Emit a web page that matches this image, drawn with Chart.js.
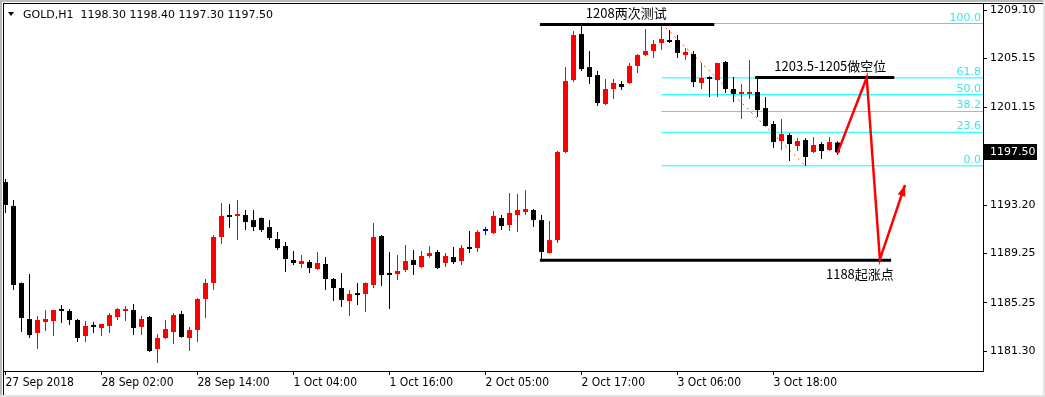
<!DOCTYPE html>
<html>
<head>
<meta charset="utf-8">
<script src="https://cdn.jsdelivr.net/npm/chart.js@4.4.1/dist/chart.umd.min.js"></script>
<style>
html, body { margin: 0; padding: 0; background: #fff; }
canvas { display: block; }
</style>
</head>
<body>
<canvas id="goldChart" width="1045" height="397"></canvas>
<script>
// GOLD H1 candles, 27 Sep 2018 .. 3 Oct 2018
const opens = [
  1195.08, 1193.13, 1186.85, 1183.92, 1182.78, 1183.67, 1183.75, 1184.73, 1184.57, 1183.84,
  1182.53, 1183.43, 1183.18, 1183.35, 1184.08, 1184.57, 1184.65, 1183.27, 1184.08, 1181.47,
  1182.37, 1182.86, 1184.32, 1182.37, 1183.02, 1185.55, 1186.85, 1190.60, 1192.39, 1192.31,
  1192.39, 1191.98, 1192.15, 1191.41, 1190.44, 1189.87, 1188.73, 1188.40, 1188.56, 1187.99,
  1188.40, 1187.18, 1186.44, 1185.38, 1186.03, 1185.95, 1186.69, 1190.68, 1187.67, 1187.58,
  1187.91, 1188.73, 1188.15, 1189.05, 1189.38, 1188.48, 1188.97, 1188.64, 1189.79, 1189.70,
  1191.09, 1190.92, 1192.15, 1191.58, 1192.39, 1192.64, 1192.80, 1191.98, 1189.29, 1190.35,
  1197.53, 1203.39, 1207.14, 1204.45, 1203.80, 1201.44, 1202.66, 1203.07, 1203.15, 1204.54,
  1205.43, 1205.76, 1206.41, 1206.65, 1206.65, 1205.43, 1205.51, 1203.15, 1203.64, 1203.39,
  1204.86, 1202.66, 1202.26, 1202.26, 1202.42, 1201.11, 1199.81, 1198.42, 1198.91, 1198.02,
  1198.50, 1197.53, 1198.18, 1197.69, 1198.30
];
const highs = [
  1195.33, 1193.62, 1186.90, 1187.58, 1184.16, 1184.65, 1184.65, 1185.06, 1184.73, 1183.92,
  1183.75, 1183.67, 1183.51, 1184.41, 1184.81, 1184.98, 1185.14, 1184.16, 1184.16, 1182.69,
  1183.84, 1184.41, 1184.57, 1183.27, 1185.63, 1187.18, 1190.76, 1193.37, 1193.29, 1193.62,
  1192.80, 1192.80, 1192.20, 1191.98, 1191.01, 1190.19, 1189.46, 1189.13, 1188.73, 1189.38,
  1188.97, 1187.26, 1187.67, 1186.28, 1186.85, 1186.90, 1191.74, 1190.76, 1189.38, 1189.13,
  1189.95, 1189.54, 1189.46, 1189.87, 1189.54, 1189.29, 1189.79, 1189.95, 1191.09, 1191.17,
  1191.41, 1192.72, 1192.39, 1194.19, 1194.10, 1194.43, 1192.88, 1192.39, 1191.90, 1197.61,
  1204.45, 1207.39, 1207.95, 1205.76, 1204.13, 1203.48, 1203.48, 1203.31, 1204.78, 1205.51,
  1207.55, 1206.65, 1208.00, 1207.47, 1207.06, 1206.00, 1205.76, 1204.78, 1203.70, 1204.80,
  1204.94, 1203.64, 1203.07, 1205.03, 1203.64, 1202.01, 1200.05, 1200.22, 1199.08, 1198.67,
  1198.67, 1198.75, 1198.34, 1198.75, 1198.40
];
const lows = [
  1192.56, 1186.28, 1182.86, 1182.37, 1181.47, 1182.94, 1182.53, 1183.59, 1183.43, 1182.04,
  1182.04, 1182.78, 1182.53, 1182.78, 1183.84, 1183.75, 1182.61, 1182.61, 1181.23, 1180.33,
  1182.29, 1181.88, 1182.40, 1181.31, 1182.04, 1184.00, 1186.28, 1190.03, 1191.33, 1190.35,
  1191.17, 1191.09, 1191.01, 1190.35, 1189.54, 1187.75, 1188.32, 1188.07, 1187.67, 1187.91,
  1186.28, 1185.38, 1184.89, 1184.16, 1185.06, 1184.49, 1186.44, 1186.60, 1184.73, 1187.10,
  1187.75, 1187.50, 1188.07, 1188.89, 1188.00, 1188.15, 1188.40, 1188.32, 1189.29, 1189.38,
  1190.76, 1190.85, 1191.17, 1191.09, 1191.01, 1192.39, 1191.41, 1188.81, 1189.25, 1190.11,
  1197.45, 1203.23, 1204.13, 1203.07, 1201.28, 1201.36, 1201.85, 1202.58, 1203.07, 1203.96,
  1205.35, 1205.19, 1205.84, 1206.41, 1205.19, 1205.03, 1202.82, 1202.66, 1202.01, 1202.01,
  1202.34, 1201.60, 1200.22, 1201.85, 1200.38, 1199.60, 1197.85, 1197.69, 1196.79, 1197.61,
  1196.40, 1197.45, 1196.96, 1197.61, 1197.30
];
const closes = [
  1193.21, 1186.69, 1184.00, 1182.61, 1183.84, 1183.92, 1184.65, 1184.57, 1183.84, 1182.37,
  1183.35, 1183.27, 1183.51, 1184.24, 1184.73, 1184.73, 1183.18, 1183.92, 1181.31, 1182.37,
  1183.10, 1184.24, 1182.45, 1183.02, 1185.55, 1186.85, 1190.60, 1192.31, 1192.23, 1192.47,
  1191.82, 1191.41, 1191.17, 1190.52, 1189.70, 1188.81, 1188.48, 1188.64, 1188.07, 1188.48,
  1187.18, 1186.44, 1185.47, 1185.95, 1185.87, 1186.85, 1190.60, 1187.50, 1187.50, 1187.83,
  1188.64, 1188.32, 1189.05, 1189.29, 1188.07, 1189.05, 1188.56, 1189.70, 1189.62, 1191.01,
  1191.09, 1192.31, 1191.50, 1192.56, 1192.80, 1192.88, 1191.98, 1189.38, 1190.35, 1197.53,
  1203.31, 1207.06, 1204.29, 1203.64, 1201.52, 1202.66, 1203.15, 1202.82, 1204.54, 1205.43,
  1205.76, 1206.33, 1206.74, 1206.49, 1205.60, 1205.68, 1203.23, 1203.56, 1203.48, 1204.78,
  1202.66, 1202.26, 1202.34, 1202.34, 1200.95, 1199.65, 1198.34, 1198.99, 1198.18, 1198.42,
  1197.12, 1198.10, 1197.61, 1198.34, 1197.50
];

const timeTickIdx = [0, 12, 24, 36, 48, 60, 72, 84, 96];
const timeLabels = ["27 Sep 2018", "28 Sep 02:00", "28 Sep 14:00", "1 Oct 04:00", "1 Oct 16:00",
                    "2 Oct 05:00", "2 Oct 17:00", "3 Oct 06:00", "3 Oct 18:00"];
const priceTicks = [1209.10, 1205.15, 1201.15, 1197.20, 1193.20, 1189.25, 1185.25, 1181.30];

// fibonacci: drawn from the high of bar 82 to the low of bar 100
const fibHigh = { x: 82, y: 1208.00 };
const fibLow = { x: 100, y: 1196.40 };
const fibRatios = [100.0, 61.8, 50.0, 38.2, 23.6, 0.0];

// hand drawn levels (bar index from / to, price) and their notes
const levelFrom = [66.8, 93.7, 66.8];
const levelTo = [88.6, 111.1, 110.7];
const levelPrice = [1207.92, 1203.60, 1188.71];
const noteText = ["1208两次测试", "1203.5-1205做空位", "1188起涨点"];
const noteX = [77.6, 103.1, 106.8];
const noteY = [1208.86, 1204.54, 1187.58];

// red projected path
const pathX = [103.98, 107.65, 109.3, 112.44];
const pathY = [1197.42, 1203.58, 1188.78, 1194.84];

const xMin = -0.1875, xMax = 122.1875;
const yMin = 1179.68, yMax = 1209.59;

const candleColors = closes.map((c, i) =>
  c > opens[i] ? "#ff0000" : (c < opens[i] ? "#000000" : "#0000ff"));

const datasets = [];

datasets.push({
  type: "line",
  data: pathX.map((x, i) => ({ x: x, y: pathY[i] })),
  borderColor: "#ff0000",
  borderWidth: 2.5,
  pointRadius: 0,
  order: 0
});

levelPrice.forEach((p, i) => {
  datasets.push({
    type: "line",
    data: [{ x: levelFrom[i], y: p }, { x: levelTo[i], y: p }],
    borderColor: "#000000",
    borderWidth: 3,
    pointRadius: 0,
    order: 1
  });
});

datasets.push({
  type: "bar",
  data: opens.map((o, i) => ({ x: i, y: [Math.min(o, closes[i]), Math.max(o, closes[i])] })),
  backgroundColor: candleColors,
  barThickness: 5,
  minBarLength: 2,
  grouped: false,
  inflateAmount: 0,
  borderWidth: 0,
  order: 2
});

datasets.push({
  type: "bar",
  data: lows.map((l, i) => ({ x: i, y: [l, highs[i]] })),
  backgroundColor: candleColors,
  barThickness: 1,
  grouped: false,
  inflateAmount: 0,
  borderWidth: 0,
  order: 3
});

datasets.push({
  type: "line",
  data: [fibHigh, fibLow],
  borderColor: "#ff4500",
  borderWidth: 1,
  borderDash: [2, 4],
  pointRadius: 0,
  order: 4
});

const fibLevels = fibRatios.map(r => fibLow.y + (fibHigh.y - fibLow.y) * r / 100);

fibLevels.forEach(lv => {
  datasets.push({
    type: "line",
    data: [{ x: fibHigh.x, y: lv }, { x: xMax, y: lv }],
    borderColor: "#00ffff",
    borderWidth: 1,
    pointRadius: 0,
    order: 5
  });
});

const decor = {
  id: "decor",
  beforeDraw(chart) {
    const c = chart.ctx;
    c.save();
    c.fillStyle = "#ffffff";
    c.fillRect(0, 0, chart.width, chart.height);
    c.restore();
  },
  afterDraw(chart) {
    const c = chart.ctx;
    const a = chart.chartArea;
    const xs = chart.scales.x, ys = chart.scales.y;
    c.save();

    // window frame
    c.fillStyle = "#b9b9b9";
    c.fillRect(0, 0, chart.width, 2);
    c.fillRect(0, 0, 2, chart.height);
    c.fillStyle = "#e3e3e3";
    c.fillRect(chart.width - 2, 0, 2, chart.height);
    c.fillRect(0, chart.height - 2, chart.width, 2);
    c.fillStyle = "#000000";
    c.fillRect(3, 3, chart.width - 5, 1);
    c.fillRect(3, 3, 1, chart.height - 5);
    c.fillRect(a.right, 3, 1, a.bottom - 3 + 1);
    c.fillRect(3, a.bottom, a.right - 3 + 1, 1);

    // fib labels
    c.font = "11px 'DejaVu Sans'";
    c.fillStyle = "#3fe4ea";
    c.textAlign = "right";
    c.textBaseline = "alphabetic";
    fibRatios.forEach((r, i) => {
      c.fillText(r.toFixed(1), a.right - 2, ys.getPixelForValue(fibLevels[i]) - 3);
    });

    // notes
    c.font = "13px 'Noto Sans CJK SC', 'DejaVu Sans'";
    c.fillStyle = "#000000";
    c.textAlign = "center";
    c.textBaseline = "middle";
    noteText.forEach((t, i) => {
      c.fillText(t, xs.getPixelForValue(noteX[i]), ys.getPixelForValue(noteY[i]));
    });

    // arrow head on the red path
    const n = pathX.length;
    const x1 = xs.getPixelForValue(pathX[n - 2]), y1 = ys.getPixelForValue(pathY[n - 2]);
    const x2 = xs.getPixelForValue(pathX[n - 1]), y2 = ys.getPixelForValue(pathY[n - 1]);
    const ang = Math.atan2(y2 - y1, x2 - x1);
    c.fillStyle = "#ff0000";
    c.beginPath();
    c.moveTo(x2, y2);
    c.lineTo(x2 - 11 * Math.cos(ang) + 4 * Math.sin(ang), y2 - 11 * Math.sin(ang) - 4 * Math.cos(ang));
    c.lineTo(x2 - 11 * Math.cos(ang) - 4 * Math.sin(ang), y2 - 11 * Math.sin(ang) + 4 * Math.cos(ang));
    c.closePath();
    c.fill();

    // title
    c.fillStyle = "#000000";
    c.beginPath();
    c.moveTo(8, 12);
    c.lineTo(14, 12);
    c.lineTo(11, 16);
    c.closePath();
    c.fill();
    const last = opens.length - 1;
    c.font = "11px 'DejaVu Sans'";
    c.textAlign = "left";
    c.textBaseline = "middle";
    c.fillText("GOLD,H1  " + [opens[last], highs[last], lows[last], closes[last]]
      .map(v => v.toFixed(2)).join(" "), 23, 15);

    // current price box
    const py = Math.round(ys.getPixelForValue(closes[last]));
    c.fillStyle = "#000000";
    c.fillRect(a.right + 1, py - 8, 53, 16);
    c.fillStyle = "#ffffff";
    c.fillText(closes[last].toFixed(2), 990, py);

    c.restore();
  }
};

new Chart(document.getElementById("goldChart"), {
  type: "bar",
  data: { datasets: datasets },
  options: {
    responsive: false,
    animation: false,
    devicePixelRatio: 1,
    layout: { padding: { left: 4, top: 4, right: 0, bottom: 0 } },
    plugins: { legend: { display: false }, tooltip: { enabled: false } },
    scales: {
      x: {
        type: "linear",
        min: xMin,
        max: xMax,
        offset: false,
        afterBuildTicks: s => { s.ticks = timeTickIdx.map(v => ({ value: v })); },
        afterFit: s => { s.height = 26; s.paddingLeft = 0; s.paddingRight = 0; },
        grid: { drawOnChartArea: false, offset: false, tickLength: 4, color: "#000", tickColor: "#000" },
        border: { display: false },
        ticks: {
          autoSkip: false,
          maxRotation: 0,
          align: "start",
          padding: 1,
          color: "#000",
          font: { family: "'DejaVu Sans Condensed', 'Liberation Sans Narrow', 'DejaVu Sans'", size: 12 },
          callback: v => timeLabels[timeTickIdx.indexOf(v)]
        }
      },
      y: {
        position: "right",
        min: yMin,
        max: yMax,
        afterBuildTicks: s => { s.ticks = priceTicks.map(v => ({ value: v })); },
        afterFit: s => { s.width = 62; s.paddingTop = 0; s.paddingBottom = 0; },
        grid: { drawOnChartArea: false, tickLength: 4, color: "#000", tickColor: "#000" },
        border: { display: false },
        ticks: {
          autoSkip: false,
          padding: 3,
          color: "#000",
          font: { family: "'DejaVu Sans'", size: 11 },
          callback: v => v.toFixed(2)
        }
      }
    }
  },
  plugins: [decor]
});
</script>
</body>
</html>
